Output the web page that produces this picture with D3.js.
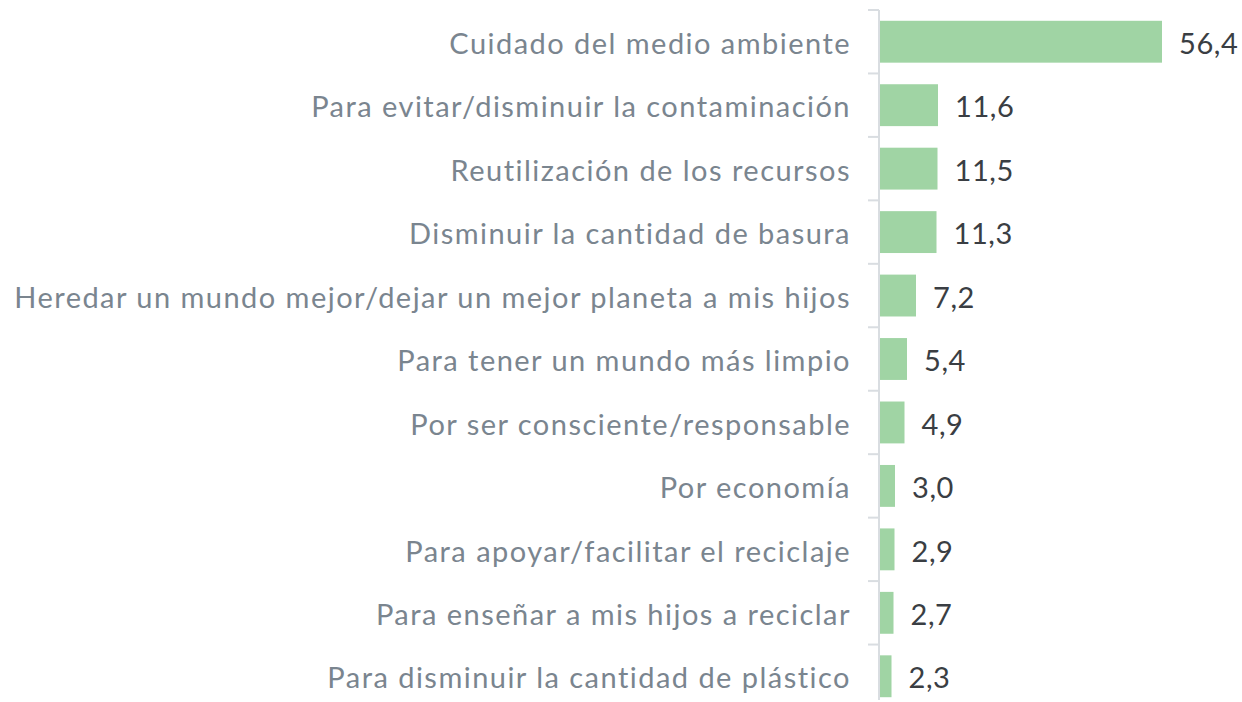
<!DOCTYPE html>
<html>
<head>
<meta charset="utf-8">
<script src="https://cdn.jsdelivr.net/npm/d3@7"></script>
<style>
  body { margin: 0; background: #fff; }
  svg text { font-family: Lato, sans-serif; }
</style>
</head>
<body>
<svg id="chart"></svg>
<script>
// Motivos para reciclar (%)
const categories = [
  "Cuidado del medio ambiente",
  "Para evitar/disminuir la contaminación",
  "Reutilización de los recursos",
  "Disminuir la cantidad de basura",
  "Heredar un mundo mejor/dejar un mejor planeta a mis hijos",
  "Para tener un mundo más limpio",
  "Por ser consciente/responsable",
  "Por economía",
  "Para apoyar/facilitar el reciclaje",
  "Para enseñar a mis hijos a reciclar",
  "Para disminuir la cantidad de plástico"
];
const values = [56.4, 11.6, 11.5, 11.3, 7.2, 5.4, 4.9, 3.0, 2.9, 2.7, 2.3];

const width = 1242;
const height = 702;
const axisX = 879;

const svg = d3.select("#chart")
  .attr("width", width)
  .attr("height", height);

const x = d3.scaleLinear()
  .domain([0, 56.4])
  .range([axisX + 1, 1162]);

const y = d3.scaleBand()
  .domain(categories)
  .range([10, 708])
  .paddingInner(0.34)
  .paddingOuter(0.17);

// Category boundaries for tick marks
const step = y.step();
const boundaries = d3.range(categories.length + 1).map(i => 10 + i * step);

svg.append("g")
  .selectAll("line")
  .data(boundaries)
  .enter().append("line")
  .attr("x1", axisX - 11)
  .attr("x2", axisX)
  .attr("y1", d => d)
  .attr("y2", d => d)
  .attr("stroke", "#d9dde1")
  .attr("stroke-width", 2);

svg.append("line")
  .attr("x1", axisX)
  .attr("x2", axisX)
  .attr("y1", 10)
  .attr("y2", 700)
  .attr("stroke", "#d9dde1")
  .attr("stroke-width", 2);

// Bars
svg.append("g")
  .selectAll("rect")
  .data(values)
  .enter().append("rect")
  .attr("x", x(0))
  .attr("y", (d, i) => y(categories[i]))
  .attr("width", d => x(d) - x(0))
  .attr("height", y.bandwidth())
  .attr("fill", "#a0d4a4");

// Category labels
svg.append("g")
  .selectAll("text")
  .data(categories)
  .enter().append("text")
  .attr("x", axisX - 28)
  .attr("y", d => y(d) + y.bandwidth() / 2)
  .attr("dy", "0.42em")
  .attr("text-anchor", "end")
  .attr("fill", "#7a858f")
  .style("font-size", "29px")
  .style("letter-spacing", "1.47px")
  .text(d => d);

// Value labels
svg.append("g")
  .selectAll("text")
  .data(values)
  .enter().append("text")
  .attr("x", d => x(d) + 17)
  .attr("y", (d, i) => y(categories[i]) + y.bandwidth() / 2)
  .attr("dy", "0.42em")
  .attr("fill", "#3a3e43")
  .style("font-size", "29px")
  .style("letter-spacing", "0.6px")
  .text(d => d.toFixed(1).replace(".", ","));
</script>
</body>
</html>
